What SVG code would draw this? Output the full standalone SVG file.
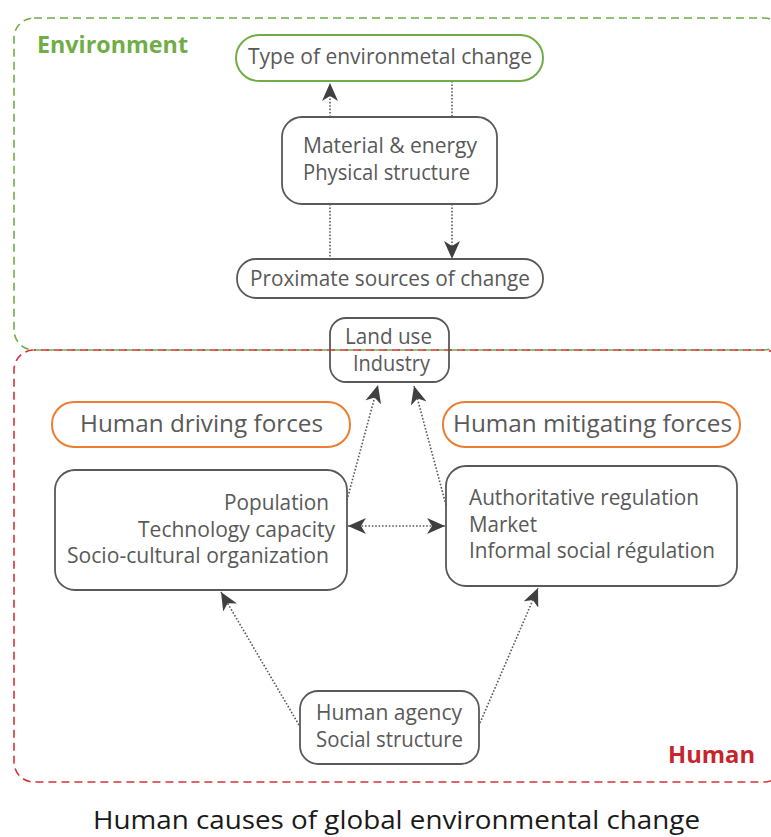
<svg xmlns="http://www.w3.org/2000/svg" width="771" height="837" viewBox="0 0 771 837">
<defs>
<style>
.box{fill:none;stroke:#595959;stroke-width:1.8}
.green{fill:none;stroke:#70ad47;stroke-width:2}
.orange{fill:none;stroke:#ed7d31;stroke-width:2}
.t{font-family:"Open Sans","Noto Sans",sans-serif;font-size:21px;fill:#595959}
.tl{font-family:"Open Sans","Noto Sans",sans-serif;font-size:24px;fill:#595959}
.dot{fill:none;stroke:#595959;stroke-width:1.6;stroke-dasharray:1.6 1.8}
.zone{fill:none;stroke-width:1.6;stroke-dasharray:8 5}
</style>
<marker id="ah" markerUnits="userSpaceOnUse" viewBox="0 0 18 16" refX="18" refY="8" markerWidth="18" markerHeight="16" orient="auto-start-reverse">
<path d="M0,0 L18,8 L0,16 L5,8 Z" fill="#404040"/>
</marker>
</defs>
<rect width="771" height="837" fill="#ffffff"/>
<g id="zones">
<rect class="zone" x="14" y="18" width="770" height="332" rx="20" stroke="#70ad47"/>
<rect class="zone" x="14" y="350" width="770" height="432" rx="20" stroke="#d13438" stroke-dashoffset="6"/>
<text x="37" y="53" textLength="151" lengthAdjust="spacingAndGlyphs" style="font-family:'Open Sans','Noto Sans',sans-serif;font-size:23px;font-weight:bold;fill:#70ad47">Environment</text>
<text x="668" y="763" textLength="87" lengthAdjust="spacingAndGlyphs" style="font-family:'Open Sans','Noto Sans',sans-serif;font-size:23px;font-weight:bold;fill:#c8242b">Human</text>
</g>
<g id="connectors">
<line class="dot" x1="330" y1="117" x2="330" y2="83" marker-end="url(#ah)"/>
<line class="dot" x1="452" y1="81" x2="452" y2="117"/>
<line class="dot" x1="330" y1="204" x2="330" y2="259"/>
<line class="dot" x1="452" y1="204" x2="452" y2="259" marker-end="url(#ah)"/>
<line class="dot" x1="347" y1="500" x2="378" y2="385" marker-end="url(#ah)"/>
<line class="dot" x1="446" y1="505" x2="414" y2="386" marker-end="url(#ah)"/>
<line class="dot" x1="348" y1="526" x2="445" y2="526" marker-start="url(#ah)" marker-end="url(#ah)"/>
<line class="dot" x1="299" y1="725" x2="221" y2="592" marker-end="url(#ah)"/>
<line class="dot" x1="480" y1="723" x2="538" y2="588" marker-end="url(#ah)"/>
</g>
<g id="type">
<rect class="green" x="236" y="35" width="307" height="46" rx="23"/>
<text class="t" x="248" y="64" textLength="284" lengthAdjust="spacingAndGlyphs">Type of environmetal change</text>
</g>
<g id="material">
<rect class="box" x="282" y="117" width="215" height="87" rx="20"/>
<text class="t" x="303" y="153" textLength="174" lengthAdjust="spacingAndGlyphs">Material &amp; energy</text>
<text class="t" x="303" y="180" textLength="167" lengthAdjust="spacingAndGlyphs">Physical structure</text>
</g>
<g id="proximate">
<rect class="box" x="237" y="259" width="306" height="39" rx="19"/>
<text class="t" x="250" y="286" textLength="280" lengthAdjust="spacingAndGlyphs">Proximate sources of change</text>
</g>
<g id="landuse">
<rect class="box" x="330" y="318" width="119" height="64" rx="16"/>
<text class="t" x="345" y="344" textLength="87" lengthAdjust="spacingAndGlyphs">Land use</text>
<text class="t" x="353" y="371" textLength="77" lengthAdjust="spacingAndGlyphs">Industry</text>
</g>
<g id="driving">
<rect class="orange" x="52" y="402" width="298" height="45" rx="22"/>
<text class="tl" x="80" y="432" textLength="243" lengthAdjust="spacingAndGlyphs">Human driving forces</text>
</g>
<g id="mitigating">
<rect class="orange" x="443" y="402" width="297" height="45" rx="22"/>
<text class="tl" x="453" y="432" textLength="279" lengthAdjust="spacingAndGlyphs">Human mitigating forces</text>
</g>
<g id="population">
<rect class="box" x="55" y="470" width="292" height="120" rx="20"/>
<text class="t" x="224" y="510" textLength="105" lengthAdjust="spacingAndGlyphs">Population</text>
<text class="t" x="138" y="537" textLength="197" lengthAdjust="spacingAndGlyphs">Technology capacity</text>
<text class="t" x="67" y="563" textLength="262" lengthAdjust="spacingAndGlyphs">Socio-cultural organization</text>
</g>
<g id="regulation">
<rect class="box" x="446" y="466" width="291" height="120" rx="20"/>
<text class="t" x="469" y="505" textLength="230" lengthAdjust="spacingAndGlyphs">Authoritative regulation</text>
<text class="t" x="469" y="532" textLength="68" lengthAdjust="spacingAndGlyphs">Market</text>
<text class="t" x="469" y="558" textLength="246" lengthAdjust="spacingAndGlyphs">Informal social régulation</text>
</g>
<g id="agency">
<rect class="box" x="300" y="691" width="179" height="73" rx="18"/>
<text class="t" x="316" y="720" textLength="146" lengthAdjust="spacingAndGlyphs">Human agency</text>
<text class="t" x="316" y="747" textLength="147" lengthAdjust="spacingAndGlyphs">Social structure</text>
</g>
<g id="title">
<text x="93" y="829" textLength="607" lengthAdjust="spacingAndGlyphs" style="font-family:'Open Sans','Noto Sans',sans-serif;font-size:26px;fill:#1a1a1a">Human causes of global environmental change</text>
</g>
</svg>
